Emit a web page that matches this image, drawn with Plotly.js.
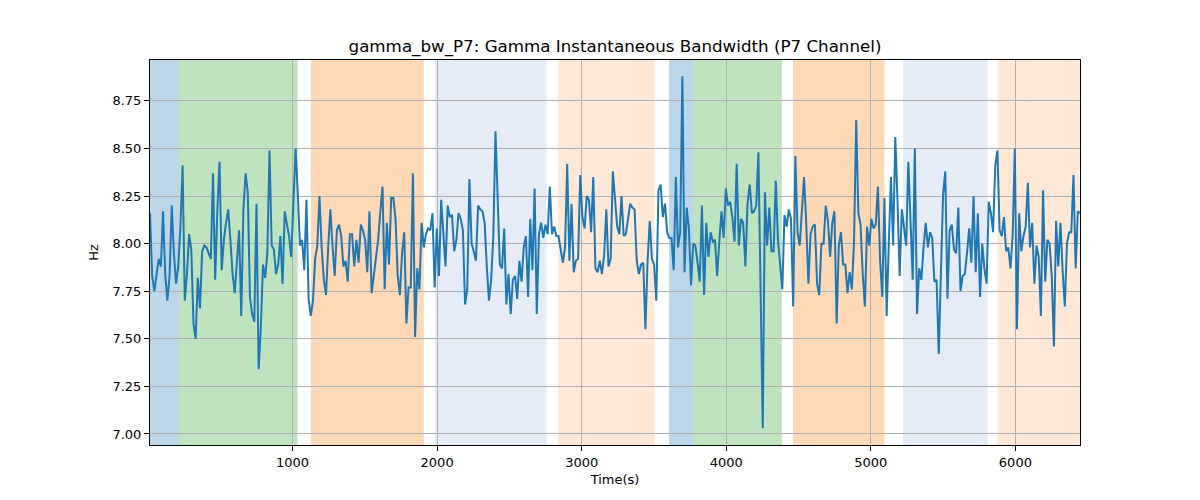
<!DOCTYPE html>
<html>
<head>
<meta charset="utf-8">
<script src="https://cdn.plot.ly/plotly-3.0.1.min.js"></script>
<style>
    html, body { margin: 0; padding: 0; background: #fff; }
    #plot { width: 1200px; height: 500px; }
</style>
</head>
<body>
<div id="plot"></div>
<script>
// sampling grid of the bandwidth series (seconds)
const timeStart = 14;
const timeStep = 15.03;

// gamma instantaneous bandwidth, P7 channel (Hz)
const bandwidth = [
    8.16, 7.83, 7.75, 7.83, 7.92, 7.88, 8.17, 7.84, 7.70, 7.83, 8.20, 7.95, 7.79, 7.88, 8.09, 8.41, 7.70, 7.84, 8.05, 7.97,
    7.58, 7.50, 7.82, 7.66, 7.96, 7.99, 7.98, 7.95, 7.92, 8.37, 7.81, 8.18, 8.43, 7.86, 8.02, 8.11, 8.18, 8.02, 7.84, 7.74,
    7.93, 8.07, 7.62, 8.18, 8.37, 8.27, 7.72, 7.63, 7.59, 8.21, 7.34, 7.56, 7.89, 7.82,
    7.95, 8.49, 7.99, 7.97, 7.84, 7.89, 8.04, 7.79, 8.17, 8.10, 8.04, 7.93, 8.23, 8.50, 8.27, 7.99, 8.02, 7.86, 8.23, 7.71,
    7.62, 7.70, 7.92, 7.99, 8.25, 7.98, 7.81, 7.73, 7.98, 8.18, 7.99, 7.83, 8.07, 8.10, 8.04, 7.88, 7.91, 7.80, 8.05, 8.05,
    7.88, 8.02, 7.90, 8.10, 8.07, 8.02, 7.85, 8.17, 7.74, 7.84, 7.93, 8.02, 8.17,
    8.30, 7.76, 8.11, 7.89, 8.24, 8.24, 8.13, 7.83, 7.73, 7.95, 8.06, 7.58, 7.77, 7.77, 8.37, 7.51, 7.87, 7.76, 8.11, 7.98,
    8.05, 8.08, 8.07, 8.16, 7.77, 8.08, 7.83, 8.23, 8.07, 7.88, 8.20, 8.14, 8.15, 7.96, 8.02, 8.16, 8.13, 8.07, 7.68, 7.76,
    8.34, 8.00, 7.96, 7.91, 8.20, 8.18, 8.17, 8.11, 7.88, 7.70, 7.81, 8.04, 8.59, 8.28,
    7.89, 7.87, 8.08, 7.68, 7.84, 7.63, 7.81, 7.83, 7.71, 7.91, 7.80, 7.98, 8.04, 7.72, 8.13, 7.86, 8.29, 7.63, 8.05, 8.11,
    8.03, 8.10, 8.05, 8.30, 8.05, 8.09, 8.04, 8.04, 7.98, 7.90, 7.98, 8.42, 7.91, 8.21, 7.85, 7.91, 7.92, 8.36, 8.14, 8.08,
    8.25, 8.23, 8.06, 8.35, 7.87, 7.85, 7.91, 7.84, 7.94, 8.18, 7.88, 7.92, 8.38, 8.22,
    8.09, 8.05, 8.25, 8.04, 8.05, 8.13, 8.21, 8.19, 8.18, 7.91, 7.84, 7.89, 7.90, 7.55, 7.91, 8.12, 7.92, 7.89, 7.70, 8.28,
    8.31, 8.14, 8.21, 8.06, 8.03, 8.03, 7.86, 8.35, 7.98, 8.06, 8.88, 7.85, 8.19, 8.08, 7.78, 8.00, 7.99, 7.90, 7.80, 8.20,
    7.73, 8.11, 7.93, 8.06, 8.01, 8.02, 7.83, 8.01, 8.17, 8.03, 8.29, 8.20, 8.22,
    8.14, 8.01, 8.42, 7.99, 8.13, 8.11, 7.88, 8.21, 8.31, 8.16, 8.17, 8.20, 8.48, 7.75, 7.03, 8.27, 7.99, 8.19, 7.96, 7.96,
    8.33, 8.02, 7.88, 7.76, 8.15, 8.09, 8.18, 8.13, 7.67, 8.46, 8.06, 7.99, 8.17, 8.35, 8.11, 7.79, 8.05, 8.09, 8.10, 7.79,
    7.73, 8.00, 8.00, 8.20, 8.12, 7.93, 8.11, 8.17, 7.58, 7.99, 8.06, 7.89, 7.89,
    7.74, 7.85, 7.76, 8.01, 8.65, 8.16, 8.10, 7.84, 7.67, 8.09, 7.99, 8.13, 8.08, 8.10, 8.30, 7.91, 7.72, 8.24, 7.62, 8.00,
    8.35, 7.99, 8.56, 8.23, 7.83, 8.18, 8.09, 7.99, 8.43, 8.10, 7.81, 8.50, 7.63, 7.87, 7.81, 7.98, 8.11, 7.98, 8.06, 8.03,
    7.80, 7.81, 7.42, 7.85, 8.26, 8.38, 7.71, 8.07, 8.10, 7.97, 7.95, 8.19, 7.75, 7.83,
    7.84, 7.95, 8.08, 7.90, 8.25, 7.85, 8.16, 7.72, 8.00, 7.87, 7.79, 8.22, 8.16, 8.06, 8.41, 8.49, 8.07, 8.04, 8.14, 7.96,
    7.98, 7.87, 8.04, 8.50, 7.55, 8.16, 7.96, 8.04, 8.09, 8.32, 7.98, 8.11, 7.79, 7.99, 7.93, 7.62, 8.28, 7.80, 8.02, 8.00,
    7.83, 7.46, 8.12, 7.88, 8.11, 7.86, 7.67, 8.00, 8.06, 8.06, 8.36, 7.87, 8.17, 8.16
];

// shaded segments (seconds) and which kind each one is
const spanStart = [14, 214, 1127, 1984, 2835, 3605, 3775, 4462, 5223, 5877];
const spanEnd = [214, 1035, 1908, 2757, 3503, 3775, 4384, 5094, 5808, 6446];
const spanKind = ["blue", "green", "orange", "paleBlue", "paleOrange", "blue", "green", "orange", "paleBlue", "paleOrange"];

const yTicks = [7.00, 7.25, 7.50, 7.75, 8.00, 8.25, 8.50, 8.75];

class BandwidthChart {

    constructor(container) {
        this.container = container;
        this.CONST = {
            colors: {
                blue: "rgba(31,119,180,0.3)",
                green: "rgba(44,160,44,0.3)",
                orange: "rgba(255,127,14,0.3)",
                paleBlue: "rgba(70,120,200,0.14)",
                paleOrange: "rgba(255,127,14,0.17)"
            },
            font: "DejaVu Sans, Liberation Sans, sans-serif"
        }
    }

    _shapes(){
        return spanStart.map((start, i) => {
            return {
                type: "rect",
                xref: "x", yref: "paper",
                x0: start, x1: spanEnd[i],
                y0: 0, y1: 1,
                fillcolor: this.CONST.colors[spanKind[i]],
                line: {width: 0},
                layer: "below"
            }
        })
    }

    drawPlot(){
        const times = bandwidth.map((v, i) => timeStart + timeStep * i);

        const trace = {
            x: times,
            y: bandwidth,
            type: "scatter",
            mode: "lines",
            line: {color: "#1f77b4", width: 2},
            hoverinfo: "x+y"
        }

        const axisCommon = {
            showline: true,
            linecolor: "#000",
            linewidth: 1,
            mirror: true,
            ticks: "outside",
            ticklen: 5,
            tickwidth: 1,
            tickcolor: "#000",
            showgrid: true,
            gridcolor: "#b0b0b0",
            gridwidth: 1,
            zeroline: false,
            tickfont: {family: this.CONST.font, size: 13, color: "#000"}
        }

        const layout = {
            width: 1200,
            height: 500,
            margin: {l: 150, r: 120, t: 60, b: 55},
            paper_bgcolor: "#fff",
            plot_bgcolor: "#fff",
            showlegend: false,
            title: {
                text: "gamma_bw_P7: Gamma Instantaneous Bandwidth (P7 Channel)",
                font: {family: this.CONST.font, size: 16.7, color: "#000"},
                x: 0.5, xref: "paper", xanchor: "center",
                y: 0.908, yref: "container", yanchor: "middle"
            },
            xaxis: Object.assign({}, axisCommon, {
                range: [times[0], times[times.length - 1]],
                tick0: 0,
                dtick: 1000,
                title: {text: "Time(s)", font: {family: this.CONST.font, size: 13, color: "#000"}, standoff: 6}
            }),
            yaxis: Object.assign({}, axisCommon, {
                range: [6.942, 8.965],
                tickvals: yTicks,
                ticktext: yTicks.map((v) => v.toFixed(2)),
                title: {text: "Hz", font: {family: this.CONST.font, size: 13, color: "#000"}, standoff: 10}
            }),
            shapes: this._shapes()
        }

        Plotly.newPlot(this.container, [trace], layout, {displayModeBar: false, staticPlot: true});
    }
}

new BandwidthChart(document.getElementById("plot")).drawPlot();
</script>
</body>
</html>
